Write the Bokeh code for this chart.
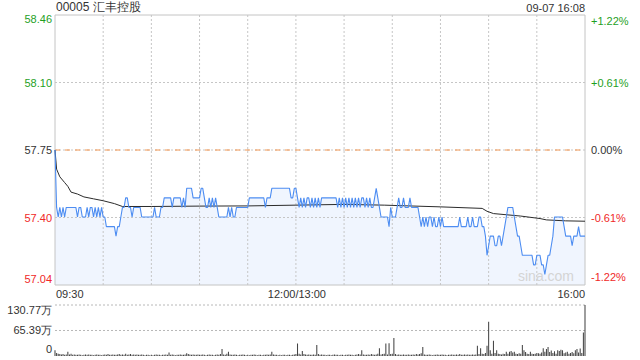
from bokeh.plotting import figure
from bokeh.models import Range1d, Label
from bokeh.layouts import column
from bokeh.embed import file_html
from bokeh.resources import INLINE

# ---------------- data ----------------
title_text = "00005 汇丰控股"
date_text = "09-07 16:08"
prev_close = 57.75
price_low, price_high = 57.045, 58.455
price_ticks = [58.455, 58.1025, 57.75, 57.3975, 57.045]
price_tick_labels = ["58.46", "58.10", "57.75", "57.40", "57.04"]
pct_tick_labels = ["+1.22%", "+0.61%", "0.00%", "-0.61%", "-1.22%"]
time_ticks = [0, 150, 330]
time_tick_labels = ["09:30", "12:00/13:00", "16:00"]
grid_minutes = [30, 60, 90, 120, 150, 180, 210, 240, 270, 300]
vol_max = 130.77
vol_ticks = [130.77, 65.39, 0]
vol_tick_labels = ["130.77万", "65.39万", "0"]

minutes = list(range(331))
price = [
    57.75, 57.45, 57.40, 57.45, 57.40, 57.45, 57.40, 57.45, 57.45, 57.45,
    57.45, 57.45, 57.45, 57.45, 57.40, 57.45, 57.45, 57.40, 57.40, 57.40,
    57.45, 57.40, 57.45, 57.45, 57.40, 57.45, 57.40, 57.45, 57.40, 57.45,
    57.40, 57.40, 57.35, 57.35, 57.35, 57.35, 57.35, 57.35, 57.30, 57.35,
    57.35, 57.40, 57.45, 57.45, 57.50, 57.50, 57.45, 57.45, 57.40, 57.45,
    57.45, 57.45, 57.45, 57.45, 57.40, 57.40, 57.40, 57.40, 57.40, 57.40,
    57.40, 57.40, 57.45, 57.40, 57.40, 57.40, 57.45, 57.45, 57.50, 57.50,
    57.50, 57.50, 57.50, 57.45, 57.50, 57.50, 57.50, 57.50, 57.50, 57.45,
    57.50, 57.45, 57.55, 57.55, 57.55, 57.55, 57.50, 57.50, 57.50, 57.50,
    57.50, 57.55, 57.55, 57.50, 57.45, 57.45, 57.50, 57.45, 57.50, 57.45,
    57.50, 57.45, 57.40, 57.40, 57.40, 57.40, 57.40, 57.40, 57.45, 57.40,
    57.45, 57.40, 57.40, 57.45, 57.45, 57.45, 57.45, 57.45, 57.45, 57.45,
    57.45, 57.50, 57.50, 57.50, 57.50, 57.50, 57.50, 57.50, 57.50, 57.50,
    57.50, 57.45, 57.50, 57.50, 57.50, 57.55, 57.55, 57.55, 57.55, 57.55,
    57.55, 57.55, 57.55, 57.55, 57.55, 57.55, 57.55, 57.50, 57.50, 57.55,
    57.55, 57.50, 57.45, 57.50, 57.45, 57.50, 57.45, 57.50, 57.50, 57.45,
    57.50, 57.45, 57.50, 57.45, 57.50, 57.45, 57.50, 57.50, 57.50, 57.50,
    57.50, 57.50, 57.50, 57.50, 57.50, 57.50, 57.45, 57.50, 57.45, 57.50,
    57.45, 57.50, 57.45, 57.50, 57.45, 57.50, 57.45, 57.50, 57.45, 57.50,
    57.45, 57.50, 57.50, 57.45, 57.50, 57.45, 57.50, 57.45, 57.45, 57.50,
    57.55, 57.50, 57.45, 57.40, 57.40, 57.40, 57.40, 57.40, 57.35, 57.45,
    57.40, 57.40, 57.40, 57.45, 57.50, 57.45, 57.45, 57.50, 57.45, 57.45,
    57.45, 57.50, 57.45, 57.45, 57.45, 57.45, 57.45, 57.40, 57.35, 57.40,
    57.35, 57.40, 57.35, 57.40, 57.40, 57.35, 57.40, 57.35, 57.35, 57.40,
    57.35, 57.40, 57.35, 57.35, 57.35, 57.35, 57.35, 57.35, 57.35, 57.35,
    57.35, 57.35, 57.40, 57.35, 57.35, 57.35, 57.35, 57.40, 57.35, 57.35,
    57.40, 57.35, 57.35, 57.35, 57.40, 57.40, 57.35, 57.35, 57.30, 57.20,
    57.25, 57.30, 57.30, 57.30, 57.25, 57.25, 57.30, 57.30, 57.25, 57.30,
    57.35, 57.40, 57.45, 57.45, 57.45, 57.45, 57.40, 57.35, 57.30, 57.30,
    57.25, 57.20, 57.20, 57.20, 57.20, 57.20, 57.20, 57.20, 57.15, 57.15,
    57.20, 57.20, 57.20, 57.15, 57.15, 57.10, 57.15, 57.20, 57.20, 57.25,
    57.30, 57.40, 57.40, 57.40, 57.40, 57.40, 57.40, 57.35, 57.30, 57.30,
    57.30, 57.30, 57.25, 57.30, 57.30, 57.30, 57.35, 57.30, 57.30, 57.30,
    57.30,
]

avg_minutes = [0, 1, 3, 6, 8, 10, 14, 18, 24, 30, 37, 42, 60, 90, 120, 150,
               180, 205, 240, 266, 269, 273, 290, 302, 306, 318, 330]
avg_price = [57.75, 57.65, 57.61, 57.58, 57.56, 57.53, 57.52, 57.505, 57.495,
             57.485, 57.47, 57.455, 57.455, 57.457, 57.458, 57.462, 57.466,
             57.462, 57.453, 57.445, 57.43, 57.418, 57.405, 57.392, 57.385,
             57.38, 57.378]

volume = [  # 万股
    15, 8, 6, 5, 4, 5, 3, 4, 11, 4,
    6, 3, 4, 3, 3, 4, 3, 2, 3, 4,
    3, 4, 3, 3, 2, 3, 4, 3, 3, 2,
    3, 4, 3, 5, 3, 3, 4, 3, 3, 4,
    5, 3, 4, 3, 6, 3, 4, 5, 3, 4,
    3, 4, 3, 3, 4, 3, 2, 3, 3, 2,
    3, 2, 3, 4, 3, 3, 2, 3, 3, 4,
    3, 9, 3, 4, 3, 2, 3, 3, 4, 3,
    3, 4, 7, 5, 4, 3, 4, 3, 3, 4,
    3, 3, 4, 3, 2, 3, 4, 3, 3, 2,
    3, 4, 3, 5, 18, 4, 3, 6, 11, 4,
    3, 3, 4, 3, 2, 3, 3, 4, 3, 2,
    3, 2, 3, 3, 4, 3, 2, 3, 3, 2,
    3, 3, 4, 3, 4, 11, 4, 3, 3, 2,
    3, 2, 3, 3, 2, 3, 3, 2, 3, 4,
    5, 32, 6, 4, 13, 5, 4, 3, 4, 3,
    3, 4, 3, 28, 5, 3, 4, 3, 3, 2,
    3, 3, 2, 3, 4, 3, 3, 2, 3, 3,
    2, 3, 3, 4, 3, 3, 2, 3, 4, 5,
    4, 15, 4, 3, 3, 4, 3, 5, 4, 3,
    4, 6, 20, 4, 5, 6, 32, 4, 33, 5,
    6, 46, 5, 3, 4, 3, 3, 4, 3, 3,
    4, 3, 3, 4, 3, 5, 4, 5, 7, 23,
    4, 3, 3, 4, 3, 2, 3, 3, 4, 3,
    3, 4, 3, 3, 2, 3, 3, 4, 3, 3,
    4, 3, 5, 3, 3, 4, 3, 4, 3, 3,
    4, 3, 4, 26, 5, 20, 6, 5, 8, 26,
    88, 15, 6, 39, 8, 15, 6, 5, 4, 6,
    5, 11, 6, 11, 13, 9, 11, 6, 5, 7,
    6, 28, 15, 10, 6, 5, 11, 6, 5, 6,
    8, 7, 6, 9, 20, 11, 18, 23, 10, 14,
    8, 12, 6, 15, 13, 16, 15, 7, 9, 11,
    6, 8, 10, 7, 15, 18, 9, 19, 8, 60,
    130.77,
]

# ---------------- layout (pixels) ----------------
W = 640
H1, H2 = 300, 60                   # price figure, volume figure
PX_LEFT, PX_RIGHT = 54.5, 584.5    # chart frame, x
PX_PTOP, PX_PBOT = 14.5, 284.5     # price panel, y inside figure 1
PX_VTOP, PX_VBOT = 4.5, 55.5       # volume panel, y inside figure 2

x_per_px = 330 / (PX_RIGHT - PX_LEFT)
x_start = 0 - PX_LEFT * x_per_px
x_end = 330 + (W - PX_RIGHT) * x_per_px
p_per_px = (price_high - price_low) / (PX_PBOT - PX_PTOP)
y_end = price_high + PX_PTOP * p_per_px
y_start = price_low - (H1 - PX_PBOT) * p_per_px
v_per_px = vol_max / (PX_VBOT - PX_VTOP)
v_end = vol_max + PX_VTOP * v_per_px
v_start = 0 - (H2 - PX_VBOT) * v_per_px

# ---------------- style ----------------
FONT = "Liberation Sans"
GREEN = "#1f9f1f"
RED = "#f02828"
DARK = "#333333"
GRID = "#c6c6c6"
tick_colors = [GREEN, GREEN, DARK, RED, RED]
tick_baselines = ["top", "middle", "middle", "middle", "bottom"]
tick_yoffs = [0, 0, 0, 0, 2]

common = dict(x_axis_location=None, y_axis_location=None, min_border=0,
              toolbar_location=None, output_backend="svg",
              outline_line_color=None, background_fill_color="white",
              border_fill_color="white")

# ---------------- price figure ----------------
p = figure(width=W, height=H1, x_range=Range1d(x_start, x_end),
           y_range=Range1d(y_start, y_end), **common)
p.xgrid.visible = False
p.ygrid.visible = False

p.varea(x=minutes, y1=[price_low] * len(minutes), y2=price,
        fill_color="#f0f5fe", fill_alpha=1.0)
p.segment(x0=grid_minutes, y0=[price_low] * len(grid_minutes),
          x1=grid_minutes, y1=[price_high] * len(grid_minutes),
          line_color=GRID, line_dash="2 2", line_width=1)
p.segment(x0=[0, 0, 0], y0=price_ticks[1:4], x1=[330, 330, 330],
          y1=price_ticks[1:4], line_color=GRID, line_dash="2 2", line_width=1)
p.segment(x0=[0], y0=[prev_close], x1=[330], y1=[prev_close],
          line_color="#f5964f", line_dash="5 5", line_width=1)
p.quad(left=[0], right=[330], bottom=[price_low], top=[price_high],
       fill_color=None, line_color="#c4c4c4", line_width=1)

p.line(avg_minutes, avg_price, line_color="#2b2b2b", line_width=1)
p.line(minutes, price, line_color="#4d8df2", line_width=1.1)

for t, lab, pct, c, bl, yo in zip(price_ticks, price_tick_labels,
                                  pct_tick_labels, tick_colors,
                                  tick_baselines, tick_yoffs):
    p.add_layout(Label(x=0, y=t, x_offset=-3, y_offset=yo, text=lab,
                       text_align="right", text_baseline=bl, text_font=FONT,
                       text_font_size="11px", text_color=c))
    p.add_layout(Label(x=330, y=t, x_offset=6, y_offset=yo, text=pct,
                       text_align="left", text_baseline=bl, text_font=FONT,
                       text_font_size="11px", text_color=c))

aligns = ["left", "center", "right"]
offs = [1, 1, 0]
for t, lab, a, o in zip(time_ticks, time_tick_labels, aligns, offs):
    p.add_layout(Label(x=t, y=price_low, x_offset=o, y_offset=-3, text=lab,
                       text_align=a, text_baseline="top", text_font=FONT,
                       text_font_size="11px", text_color=DARK))

p.add_layout(Label(x=0, y=price_high, x_offset=1, y_offset=1, text=title_text,
                   text_align="left", text_baseline="bottom", text_font=FONT,
                   text_font_size="12px", text_color=DARK))
p.add_layout(Label(x=330, y=price_high, x_offset=0, y_offset=1, text=date_text,
                   text_align="right", text_baseline="bottom", text_font=FONT,
                   text_font_size="11px", text_color=DARK))
p.add_layout(Label(x=330, y=price_low, x_offset=-11, y_offset=1,
                   text="sina.com", text_align="right", text_baseline="bottom",
                   text_font=FONT, text_font_size="14px",
                   text_color="#d4d4d4"))

# ---------------- volume figure ----------------
v = figure(width=W, height=H2, x_range=p.x_range,
           y_range=Range1d(v_start, v_end), **common)
v.xgrid.visible = False
v.ygrid.visible = False

v.segment(x0=[0, 0], y0=vol_ticks[:2], x1=[330, 330], y1=vol_ticks[:2],
          line_color="#b8b8b8", line_dash="2 2", line_width=1)
v.vbar(x=minutes, top=volume, bottom=0, width=0.65, fill_color="#444444",
       line_color=None)

for t, lab, bl, yo in zip(vol_ticks, vol_tick_labels,
                          ["top", "middle", "bottom"], [1, 0, 3]):
    v.add_layout(Label(x=0, y=t, x_offset=-3, y_offset=yo, text=lab,
                       text_align="right", text_baseline=bl, text_font=FONT,
                       text_font_size="11px", text_color=DARK))

layout = column(p, v, spacing=0)
open("out.html", "w").write(file_html(layout, INLINE))
